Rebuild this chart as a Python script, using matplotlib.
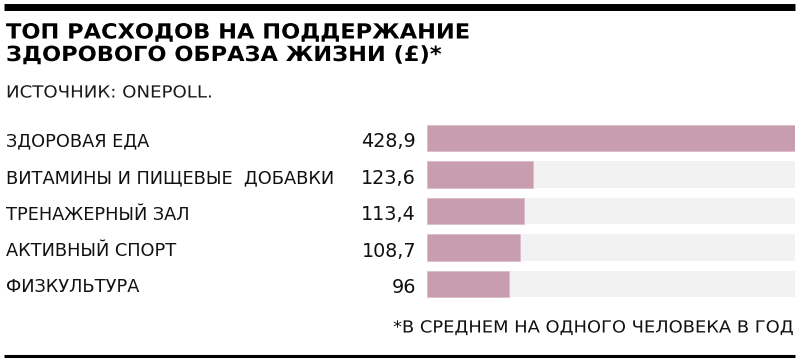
import matplotlib
matplotlib.use("Agg")
import matplotlib.pyplot as plt
from matplotlib.transforms import blended_transform_factory, Affine2D
from matplotlib.lines import Line2D
from matplotlib.patheffects import AbstractPathEffect

categories = ["ЗДОРОВАЯ ЕДА", "ВИТАМИНЫ И ПИЩЕВЫЕ  ДОБАВКИ", "ТРЕНАЖЕРНЫЙ ЗАЛ",
              "АКТИВНЫЙ СПОРТ", "ФИЗКУЛЬТУРА"]
values = [428.9, 123.6, 113.4, 108.7, 96]
value_labels = ["428,9", "123,6", "113,4", "108,7", "96"]
title_lines = ["ТОП РАСХОДОВ НА ПОДДЕРЖАНИЕ", "ЗДОРОВОГО ОБРАЗА ЖИЗНИ (£)*"]
source = "ИСТОЧНИК: ONEPOLL."
footnote = "*В СРЕДНЕМ НА ОДНОГО ЧЕЛОВЕКА В ГОД"

plt.rcParams['font.family'] = ['DejaVu Sans']


class StretchX(AbstractPathEffect):
    """Widen glyphs horizontally about the start of the line."""
    def __init__(self, sx):
        super().__init__()
        self.sx = sx

    def draw_path(self, renderer, gc, tpath, affine, rgbFace=None):
        renderer.draw_path(gc, tpath, Affine2D().scale(self.sx, 1) + affine, rgbFace)


W, H = 800, 361
fig = plt.figure(figsize=(W / 100, H / 100), dpi=100)

def fx(px):
    return px / W

def fy(py):
    return 1 - py / H

# top and bottom rules
fig.add_artist(Line2D([fx(4), fx(795)], [fy(7), fy(7)], color="black", lw=5.0,
                      solid_capstyle="butt", transform=fig.transFigure))
fig.add_artist(Line2D([fx(4), fx(795)], [fy(355.5), fy(355.5)], color="black", lw=2.2,
                      solid_capstyle="butt", transform=fig.transFigure))

for line, base in zip(title_lines, [38.5, 61]):
    fig.text(fx(6), fy(base), line, fontsize=15.0, fontweight="bold", color="black",
             ha="left", va="baseline", path_effects=[StretchX(1.08)])
fig.text(fx(6), fy(97.5), source, fontsize=12.0, color="#1a1a1a", ha="left",
         va="baseline", path_effects=[StretchX(1.09)])

# bars axes
top, bottom = 120, 302
ax = fig.add_axes([fx(427), fy(bottom), fx(795) - fx(427), (bottom - top) / H])
vmax = max(values)
n = len(categories)
ys = list(range(n))
ax.barh(ys, [vmax] * n, height=0.72, color="#f2f2f2", edgecolor="none")
ax.barh(ys, values, height=0.72, color="#c89daf", edgecolor="#dcbccb", linewidth=0.6)
ax.set_xlim(0, vmax)
ax.set_ylim(n - 0.5, -0.5)
ax.axis("off")

tr = blended_transform_factory(fig.transFigure, ax.transData)
for i, (c, vl) in enumerate(zip(categories, value_labels)):
    ax.text(fx(6), i + 0.1, c, transform=tr, fontsize=12.8, color="#111111",
            ha="left", va="center")
    ax.text(fx(416), i + 0.1, vl, transform=tr, fontsize=13.8, color="#111111",
            ha="right", va="center")

fig.text(fx(393), fy(332.5), footnote, fontsize=12.0, color="#111111",
         ha="left", va="baseline", path_effects=[StretchX(1.072)])

fig.savefig("out.png", dpi=100)
